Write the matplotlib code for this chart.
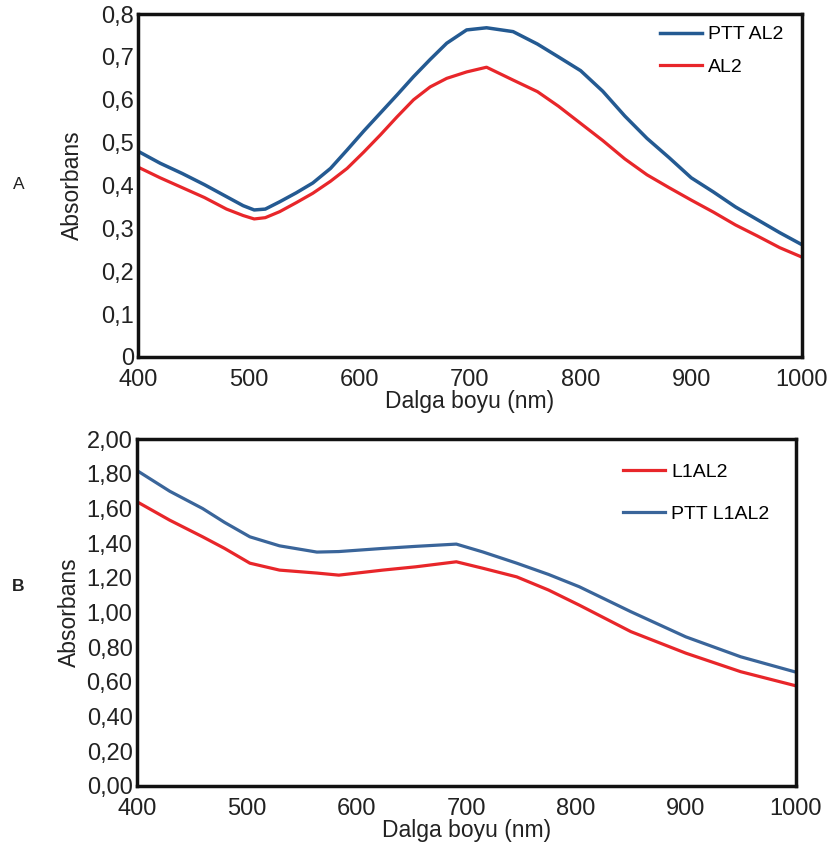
import matplotlib
matplotlib.use("Agg")
import matplotlib.pyplot as plt
from matplotlib.ticker import FuncFormatter

plt.rcParams['font.family'] = ['Liberation Sans', 'DejaVu Sans']

# panel A
wl_a = [400, 420, 440, 460, 480, 495, 505, 515, 528, 543, 558, 574, 589, 604, 619, 634, 649, 664,
        679, 697, 715, 739, 761, 780, 800, 820, 840, 860, 880, 900, 920, 940, 960, 980, 1000]
ptt_al2 = [0.480, 0.452, 0.428, 0.402, 0.374, 0.353, 0.343, 0.345, 0.362, 0.383, 0.406, 0.440, 0.483,
           0.527, 0.569, 0.611, 0.654, 0.694, 0.732, 0.763, 0.768, 0.759, 0.730, 0.700, 0.668, 0.620,
           0.562, 0.510, 0.465, 0.418, 0.385, 0.350, 0.320, 0.290, 0.262]
al2 = [0.443, 0.418, 0.395, 0.372, 0.345, 0.330, 0.322, 0.325, 0.339, 0.360, 0.382, 0.410, 0.440,
       0.478, 0.518, 0.560, 0.600, 0.630, 0.650, 0.665, 0.676, 0.646, 0.619, 0.585, 0.545, 0.505,
       0.462, 0.425, 0.395, 0.366, 0.338, 0.308, 0.282, 0.255, 0.233]

# panel B
wl_b = [400, 430, 460, 480, 503, 530, 564, 584, 624, 654, 691, 715, 746, 775, 803, 850, 900, 950, 1000]
ptt_l1al2 = [1.82, 1.70, 1.60, 1.52, 1.437, 1.385, 1.349, 1.352, 1.370, 1.382, 1.395, 1.35, 1.285,
             1.22, 1.149, 1.005, 0.860, 0.745, 0.657]
l1al2 = [1.64, 1.533, 1.437, 1.37, 1.285, 1.245, 1.228, 1.216, 1.245, 1.264, 1.293, 1.256, 1.206,
         1.13, 1.043, 0.89, 0.766, 0.659, 0.578]

blue = '#245a92'
blue_b = '#3a659a'
red = '#e8262a'

fig = plt.figure(figsize=(8.34, 8.52), dpi=100)
ax1 = fig.add_axes([0.1655, 0.581, 0.796, 0.4025])
ax2 = fig.add_axes([0.164, 0.0775, 0.790, 0.407])

ax1.plot(wl_a, ptt_al2, color=blue, lw=2.5, label='PTT AL2')
ax1.plot(wl_a, al2, color=red, lw=2.3, label='AL2')
ax1.set_xlim(400, 1000)
ax1.set_ylim(0, 0.8)
ax1.set_yticks([0, 0.1, 0.2, 0.3, 0.4, 0.5, 0.6, 0.7, 0.8])
ax1.yaxis.set_major_formatter(FuncFormatter(lambda v, p: '0' if v == 0 else f'{v:.1f}'.replace('.', ',')))

ax2.plot(wl_b, l1al2, color=red, lw=2.3, label='L1AL2')
ax2.plot(wl_b, ptt_l1al2, color=blue_b, lw=2.3, label='PTT L1AL2')
ax2.set_xlim(400, 1000)
ax2.set_ylim(0, 2.0)
ax2.set_yticks([i * 0.2 for i in range(11)])
ax2.yaxis.set_major_formatter(FuncFormatter(lambda v, p: f'{v:.2f}'.replace('.', ',')))

for ax in (ax1, ax2):
    ax.set_xticks([400, 500, 600, 700, 800, 900, 1000])
    ax.tick_params(length=0, labelsize=17, colors='#222222')
    ax.tick_params(axis='x', pad=9)
    ax.tick_params(axis='y', pad=3)
    for s in ax.spines.values():
        s.set_linewidth(2.5)
        s.set_color('#111111')
    ax.set_xlabel('Dalga boyu (nm)', fontsize=16.5, labelpad=-1, color='#222222')

ax1.set_ylabel('Absorbans', fontsize=16.5, labelpad=12, color='#222222')
ax2.set_ylabel('Absorbans', fontsize=16.5, labelpad=4, color='#222222')

ax1.legend(loc='upper right', frameon=False, fontsize=14, handlelength=2.2,
           handletextpad=0.3, labelspacing=0.75, borderaxespad=0.2,
           bbox_to_anchor=(0.99, 1.0))
ax2.legend(loc='upper right', frameon=False, fontsize=14, handlelength=2.2,
           handletextpad=0.3, labelspacing=1.25, borderaxespad=0.2,
           bbox_to_anchor=(0.978, 0.965))

fig.text(0.022, 0.783, 'A', fontsize=12.5, ha='center', va='center', color='#222222')
fig.text(0.022, 0.312, 'B', fontsize=12.5, fontweight='bold', ha='center', va='center', color='#222222')

fig.savefig('out.png', dpi=100)
